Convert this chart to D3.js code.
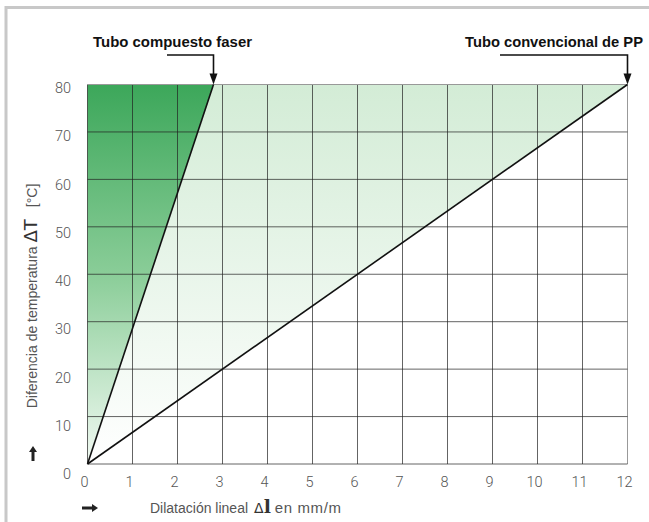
<!DOCTYPE html>
<html><head><meta charset="utf-8">
<script src="https://cdn.jsdelivr.net/npm/d3@7"></script>
<style>body{margin:0;background:#fff}svg{display:block}</style>
</head><body>
<svg id="c" width="649" height="522"></svg>
<script>
// ---- data ----
const xTicks = [0,1,2,3,4,5,6,7,8,9,10,11,12];
const yTicks = [0,10,20,30,40,50,60,70,80];
const deltaT = [0, 80];              // °C
const faserDilation = [0, 2.8];      // mm/m
const ppDilation = [0, 12];          // mm/m
const seriesLabels = ["Tubo compuesto faser", "Tubo convencional de PP"];
const xTitle = ["Dilatación lineal", "Δ", "l", "en mm/m"];
const yTitle = ["Diferencia de temperatura ", "ΔT", "[°C]"];

const svg = d3.select("#c");
const x = d3.scaleLinear().domain([0,12]).range([87.5,627.5]);
const y = d3.scaleLinear().domain([0,80]).range([464,84.5]);
const yLab = d3.scaleLinear().domain([0,80]).range([474,88]);

// frame
svg.append("rect").attr("x",6).attr("y",7.5).attr("width",700).attr("height",600)
  .attr("fill","none").attr("stroke","#c8c8c8").attr("stroke-width",3);

const defs = svg.append("defs");
const g1 = defs.append("linearGradient").attr("id","gDark").attr("gradientUnits","userSpaceOnUse")
  .attr("x1",0).attr("x2",0).attr("y1",y(80)).attr("y2",y(0));
g1.append("stop").attr("offset","0").attr("stop-color","#3ca75a");
g1.append("stop").attr("offset","0.5").attr("stop-color","#8acd98");
g1.append("stop").attr("offset","1").attr("stop-color","#f2faf3");
const g2 = defs.append("linearGradient").attr("id","gLight").attr("gradientUnits","userSpaceOnUse")
  .attr("x1",0).attr("x2",0).attr("y1",y(80)).attr("y2",y(0));
g2.append("stop").attr("offset","0").attr("stop-color","#d3ecd6");
g2.append("stop").attr("offset","1").attr("stop-color","#ffffff");

const tMax = deltaT[1];
// areas
const line = d3.line().x(d=>x(d[0])).y(d=>y(d[1]));
svg.append("path").attr("d", line([[faserDilation[0],deltaT[0]],[faserDilation[1],tMax],[0,tMax]])+"Z")
  .attr("fill","url(#gDark)");
svg.append("path").attr("d", line([[0,deltaT[0]],[ppDilation[1],tMax],[faserDilation[1],tMax]])+"Z")
  .attr("fill","url(#gLight)");

// grid
const grid = svg.append("g");
grid.selectAll("line.v").data(xTicks).join("line").attr("class","v")
  .attr("x1",d=>x(d)).attr("x2",d=>x(d)).attr("y1",y(0)).attr("y2",y(80))
  .attr("stroke",d=>d===12?"#999":"#222").attr("stroke-opacity",d=>d===12?1:0.7).attr("stroke-width",1);
grid.selectAll("line.h").data(yTicks).join("line").attr("class","h")
  .attr("y1",d=>y(d)).attr("y2",d=>y(d)).attr("x1",x(0)).attr("x2",x(12))
  .attr("stroke",d=>d===80?"#999":"#222").attr("stroke-opacity",d=>d===80?1:0.7).attr("stroke-width",1);

// series lines
[faserDilation, ppDilation].forEach(s=>{
  svg.append("path").attr("d", line([[s[0],deltaT[0]],[s[1],deltaT[1]]]))
    .attr("stroke","#111").attr("stroke-width",1.6).attr("fill","none");
});

// tick labels
svg.append("g").selectAll("text").data(xTicks).join("text")
  .attr("x",d=>x(d)-3).attr("y",487).attr("text-anchor","middle")
  .attr("font-family","Roboto, sans-serif").attr("font-size",14.5).attr("font-weight",300).attr("fill","#555")
  .text(d=>d);
svg.append("g").selectAll("text").data(yTicks).join("text")
  .attr("x",71).attr("y",d=>yLab(d)+5).attr("text-anchor","end")
  .attr("font-family","Roboto, sans-serif").attr("font-size",14.5).attr("font-weight",300).attr("fill","#555")
  .text(d=>d);

// annotations
const annot = [
  {label:seriesLabels[0], tx:93, tw:159, lx:167, xv:faserDilation[1]},
  {label:seriesLabels[1], tx:465, tw:178, lx:500, xv:ppDilation[1]}
];
annot.forEach(a=>{
  svg.append("text").attr("x",a.tx).attr("y",47).attr("font-family","'Liberation Sans Narrow', 'Liberation Sans', sans-serif")
    .attr("font-weight","bold").attr("font-size",15).attr("fill","#111")
    .attr("textLength",a.tw).attr("lengthAdjust","spacingAndGlyphs").text(a.label);
  const px = x(a.xv), py = y(tMax);
  svg.append("path").attr("d",`M${a.lx},55H${px}V${py-8}`).attr("fill","none").attr("stroke","#111").attr("stroke-width",1.6);
  svg.append("path").attr("d",`M${px-4},${py-11}L${px+4},${py-11}L${px},${py}Z`).attr("fill","#111");
});

// y title
const yt = svg.append("text").attr("transform","translate(37,296) rotate(-90)").attr("text-anchor","middle")
  .attr("font-family","'Liberation Sans Narrow', 'Liberation Sans', sans-serif").attr("fill","#555");
yt.append("tspan").attr("font-size",14).text(yTitle[0]);
yt.append("tspan").attr("font-size",18).attr("fill","#333").attr("font-family","'DejaVu Sans', sans-serif").text(yTitle[1]);
yt.append("tspan").attr("font-size",14).attr("dx",12).text(yTitle[2]);
// up arrow
svg.append("path").attr("d","M33,446L37,452H34.5V461H31.5V452H29Z").attr("fill","#222");

// x title
const xt = svg.append("text").attr("x",150).attr("y",513)
  .attr("font-family","'Liberation Sans Narrow', 'Liberation Sans', sans-serif").attr("fill","#555");
xt.append("tspan").attr("font-size",14).text(xTitle[0]);
xt.append("tspan").attr("dx",6).attr("font-size",14).attr("fill","#333").attr("font-family","'DejaVu Sans', sans-serif").text(xTitle[1]);
xt.append("tspan").attr("font-size",19).attr("font-weight","bold").attr("fill","#333").attr("font-family","'DejaVu Serif', serif").text(xTitle[2]);
xt.append("tspan").attr("dx",4).attr("font-size",15).attr("letter-spacing",0.6).text(xTitle[3]);
// right arrow
svg.append("path").attr("d","M98,508L92,504V506.5H82V509.5H92V512Z").attr("fill","#222");
</script>
</body></html>
